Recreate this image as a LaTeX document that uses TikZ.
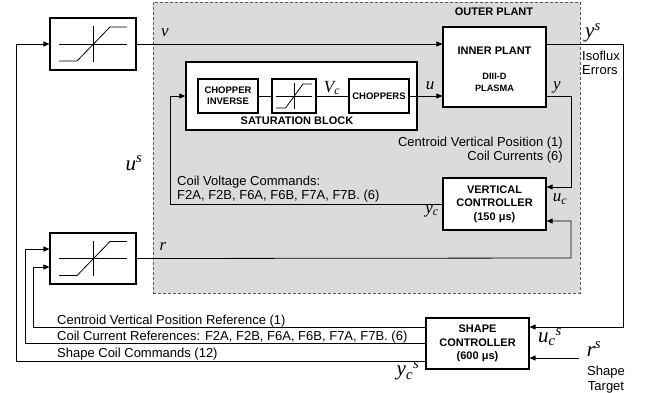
\documentclass[tikz,border=0pt]{standalone}
\usepackage{fontspec}
\setmainfont{Liberation Sans}
\newfontfamily\tms{Liberation Serif}
\usetikzlibrary{arrows.meta}
\begin{document}
\begin{tikzpicture}[x=1pt,y=-1pt,
  blk/.style={draw, line width=1.1pt, fill=white, inner sep=0pt},
  ln/.style={line width=0.8pt},
  arr/.style={ln, -{Triangle[length=6pt,width=5pt]}},
  bt/.style={font=\fontsize{11}{13.5}\selectfont\bfseries, align=center, inner sep=0pt},
  sbt/.style={font=\fontsize{9.5}{11}\selectfont\bfseries, align=center, inner sep=0pt},
  txt/.style={font=\fontsize{13}{15}\selectfont, inner sep=0pt},
  ml/.style={font=\fontsize{17}{17}\selectfont\tms\itshape, inner sep=0pt},
  bl/.style={font=\fontsize{21}{21}\selectfont\tms\itshape, inner sep=0pt},
  satsym/.pic={
    \draw[ln] (-1,0) -- (1,0);
    \draw[ln] (0,-1.05) -- (0,1.05);
    \draw[ln] (-1,-1) -- (-0.47,-1) -- (0.5,1) -- (1,1);
  }
]
\useasboundingbox (0,0) rectangle (645,392);

% outer plant
\node[draw=black!65, dash pattern=on 3pt off 2pt, fill=black!14, line width=0.9pt,
      minimum width=427pt, minimum height=291pt, inner sep=0pt, anchor=north west] (outer) at (153,2) {};
\node[bt] (outerlab) at (494,12) {OUTER PLANT};

% blocks
\node[blk, minimum width=86pt, minimum height=52pt] (sat1) at (93,44) {};
\pic[x=34pt,y=17pt] at (sat1) {satsym};
\node[blk, minimum width=86pt, minimum height=51pt] (sat2) at (93,258.5) {};
\pic[x=34pt,y=17pt] at (sat2) {satsym};

\node[blk, minimum width=103pt, minimum height=80pt] (ip) at (494.5,67) {};
\node[bt] (iplab) at (494.5,51) {INNER PLANT};
\node[font=\fontsize{9.2}{12}\selectfont\bfseries, align=center, inner sep=0pt] (iplab2) at (494.5,82) {DIII-D\\PLASMA};

\node[blk, line width=1.4pt, minimum width=231pt, minimum height=68pt] (sb) at (301.5,96) {};
\node[bt] (sblab) at (297,121) {SATURATION BLOCK};
\node[blk, minimum width=60pt, minimum height=34pt, sbt] (ci) at (228,96) {CHOPPER\\INVERSE};
\node[blk, minimum width=44pt, minimum height=34pt] (sat3) at (294,96) {};
\pic[x=18pt,y=12pt] at (sat3) {satsym};
\node[blk, minimum width=60pt, minimum height=34pt, sbt] (ch) at (379,96) {CHOPPERS};

\node[blk, minimum width=103pt, minimum height=52pt, bt] (vc) at (494.5,204) {VERTICAL\\CONTROLLER\\(150 μs)};
\node[blk, minimum width=103pt, minimum height=51pt, bt] (sc) at (477.5,343.5) {SHAPE\\CONTROLLER\\(600 μs)};

% helper coordinates
\coordinate (ysR) at (623,44);
\coordinate (ysB) at (623,327);
\coordinate (yR) at (571,96);
\coordinate (yB) at (571,187);
\coordinate (rR) at (571,258);
\coordinate (rT) at (571,221);
\coordinate (ycL) at (170,204);
\coordinate (ycT) at (170,96);
\coordinate (l1B) at (16,361);
\coordinate (l1T) at (16,44);
\coordinate (l2B) at (25,343);
\coordinate (l2T) at (25,249);
\coordinate (l3B) at (33,327);
\coordinate (l3T) at (33,267);
\coordinate (rsS) at (579,358);

% connectors
\draw[arr] (sat1.east) -- (sat1.east -| ip.west);
\draw[ln] (ci.east) -- (sat3.west);
\draw[ln] (sat3.east) -- (ch.west);
\draw[arr] (ch.east) -- (ch.east -| ip.west);
\draw[arr] (ip.east |- ysR) -- (ysR) -- (ysB) -- (sc.east |- ysB);
\draw[arr] (ip.east |- yR) -- (yR) -- (yB) -- (vc.east |- yB);
\draw[arr] (sat2.east) -- (rR) -- (rT) -- (vc.east |- rT);
\draw[arr] (vc.west) -- (ycL) -- (ycT) -- (sb.west);
\draw[arr] (sc.west |- l1B) -- (l1B) -- (l1T) -- (sat1.west);
\draw[arr] (sc.west |- l2B) -- (l2B) -- (l2T) -- (sat2.west |- l2T);
\draw[arr] (sc.west |- l3B) -- (l3B) -- (l3T) -- (sat2.west |- l3T);
\draw[arr] (rsS) -- (sc.east |- rsS);

% plain texts
\node[txt, anchor=base east] (t1) at (563,146) {Centroid Vertical Position (1)};
\node[txt, anchor=base east] (t2) at (563,160.5) {Coil Currents (6)};
\node[txt, anchor=base west] (t3) at (177,185) {Coil Voltage Commands:};
\node[txt, anchor=base west] (t4) at (177,199) {F2A, F2B, F6A, F6B, F7A, F7B. (6)};
\node[txt, anchor=base west] (t5) at (57,324) {Centroid Vertical Position Reference (1)};
\node[txt, anchor=base west] (t6) at (57,340) {Coil Current References: F2A, F2B, F6A, F6B, F7A, F7B. (6)};
\node[txt, anchor=base west] (t7) at (57,357.5) {Shape Coil Commands (12)};
\node[txt, anchor=base west] (t8) at (582,60) {Isoflux};
\node[txt, anchor=base west] (t9) at (582,74) {Errors};
\node[txt, anchor=base] (t10) at (606,375.5) {Shape};
\node[txt, anchor=base] (t11) at (606,390) {Target};

% math labels
\node[ml, anchor=base] (lv) at (165,36) {v};
\node[ml, anchor=base] (lr) at (163,250.5) {r};
\node[ml, anchor=base] (lu) at (430,89) {u};
\node[ml, anchor=base] (ly) at (557,89) {y};
\node[ml, anchor=base] (lvc) at (332,92) {V\textsubscript{c}};
\node[ml] (lyc) at (432,211) {y\textsubscript{c}};
\node[ml] (luc) at (560,199) {u\textsubscript{c}};
\node[bl] (lus) at (134,163) {u\textsuperscript{s}};
\node[bl] (lys) at (593,33) {y\textsuperscript{s}};
\node[bl] (lucs) at (550,337) {u\textsubscript{c}\textsuperscript{s}};
\node[bl] (lrs) at (594,349) {r\textsuperscript{s}};
\node[bl] (lycs) at (408,371) {y\textsubscript{c}\textsuperscript{s}};
\end{tikzpicture}
\end{document}
